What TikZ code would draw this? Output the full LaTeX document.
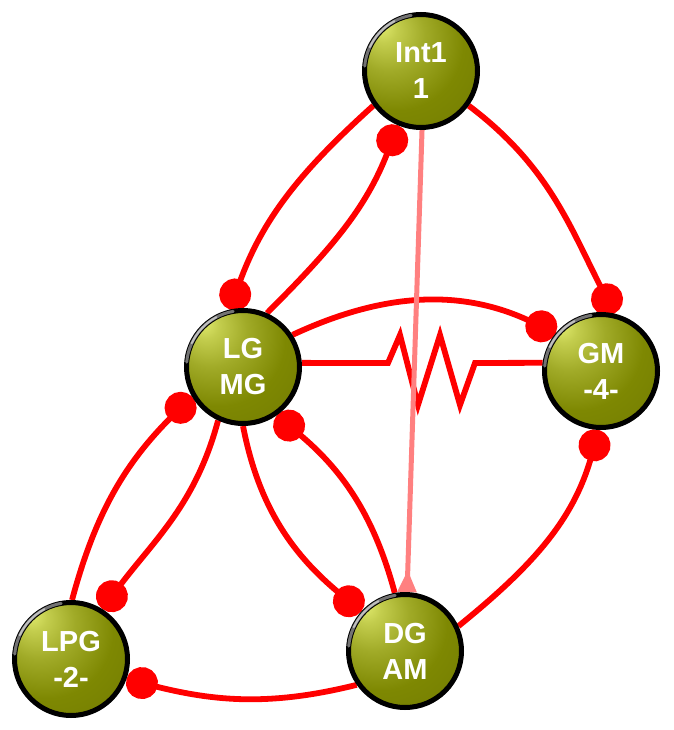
\documentclass[tikz,border=0pt]{standalone}
\usepackage{fontspec}
\setmainfont{Liberation Sans}
\usetikzlibrary{arrows.meta}
\definecolor{olhi}{RGB}{225,235,110}
\definecolor{olmain}{RGB}{126,136,2}
\definecolor{oldark}{RGB}{80,86,0}
\definecolor{pinkline}{RGB}{255,128,128}
\pgfdeclarelayer{background}
\pgfsetlayers{background,main}
\pgfdeclareradialshading{olball}{\pgfpoint{-18bp}{20bp}}{color(0bp)=(olhi); color(6bp)=(olhi!70!olmain); color(16bp)=(olhi!35!olmain); color(30bp)=(olmain); color(50bp)=(olmain!90!black); color(66bp)=(oldark); color(80bp)=(oldark)}
\tikzset{
  ball/.style={circle, draw=black, line width=5pt, shading=olball, minimum size=113pt, inner sep=0pt,
    text=white, font=\fontsize{29}{36}\selectfont\bfseries, align=center},
  link/.style={draw=red, line width=5.8pt},
  dotend/.style={link, -{Circle[length=32pt,width=32pt]}},
  dotstart/.style={link, {Circle[length=32pt,width=32pt]}-},
  ringhi/.style={line width=3pt, line cap=round}
}
\begin{document}
\begin{tikzpicture}[x=1pt,y=1pt]
\useasboundingbox (0,0) rectangle (673,-730);
\node[ball] (Int1) at (421,-71) {Int1\\1};
\node[ball] (LG) at (243,-367) {LG\\MG};
\node[ball] (GM) at (601,-371) {GM\\-4-};
\node[ball] (LPG) at (71,-659) {LPG\\-2-};
\node[ball] (DG) at (405,-651) {DG\\AM};
\foreach \n in {Int1,LG,GM,LPG,DG}{
  \draw[ringhi, black!55] ([shift={(100:56.5pt)}]\n.center) arc[start angle=100, end angle=175, radius=56.5pt];
  \draw[ringhi, black!25, line width=2pt] ([shift={(118:56.5pt)}]\n.center) arc[start angle=118, end angle=155, radius=56.5pt];
}
\begin{pgfonlayer}{background}
\draw[dotend] (Int1.216) to[out=222,in=70] (LG.103);
\draw[dotend] (LG.66) to[out=45,in=249] (Int1.247);
\draw[dotend] (Int1.-36) to[out=-37,in=117] (GM.77);
\draw[dotend] (LG.33) to[out=25,in=155] (GM.140);
\draw[link] (LG.4) -- (388,-363) -- (400,-335) -- (418,-405) -- (440,-335) -- (460,-405) -- (475,-363) -- (GM.172);
\draw[dotstart] (GM.268) to[out=254,in=39] (DG.25);
\draw[dotend] (LPG.89) to[out=75,in=225] (LG.210);
\draw[dotend] (LG.245) to[out=255,in=53] (LPG.58);
\draw[dotend] (LG.270) to[out=281,in=140] (DG.138);
\draw[dotend] (DG.100) to[out=105,in=320] (LG.305);
\draw[dotend] (DG.215) to[out=194,in=346] (LPG.340);
\draw[pinkline, line width=5pt, -{Triangle[reversed,length=22pt,width=18pt]}] (Int1.271) -- (DG.88);
\end{pgfonlayer}
\end{tikzpicture}
\end{document}
